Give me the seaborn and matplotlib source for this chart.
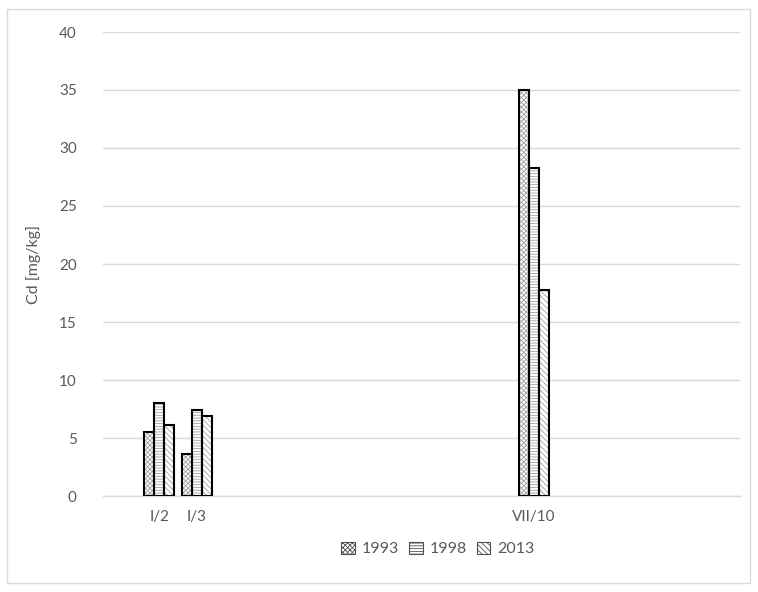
import numpy as np
import pandas as pd
import matplotlib
matplotlib.use("Agg")
import matplotlib.pyplot as plt
from matplotlib.patches import Patch, Rectangle
import seaborn as sns

# sampling sites along the category axis (blank = unused slot)
sites = ["", "I/2", "I/3", "", "", "", "", "", "", "", "", "VII/10",
         "", "", "", "", ""]
years = ["1993", "1998", "2013"]

# Cd content [mg/kg] per year, only for the labelled sites
cd_1993 = {"I/2": 5.5, "I/3": 3.6, "VII/10": 35.0}
cd_1998 = {"I/2": 8.0, "I/3": 7.4, "VII/10": 28.3}
cd_2013 = {"I/2": 6.1, "I/3": 6.9, "VII/10": 17.8}

hatches = ["xxxxxxx", "------", "\\\\\\\\\\\\"]
text_col = "#595959"

rows = []
for pos, site in enumerate(sites):
    for year, vals in zip(years, [cd_1993, cd_1998, cd_2013]):
        rows.append({"pos": pos, "year": year,
                     "cd": vals.get(site, np.nan) if site else np.nan})
df = pd.DataFrame(rows)

sns.set_style("white")
plt.rcParams["font.family"] = ["Lato", "DejaVu Sans"]
plt.rcParams["hatch.linewidth"] = 0.6

fig = plt.figure(figsize=(7.58, 5.92), dpi=100)
ax = fig.add_axes([103 / 758, 1 - 496 / 592, 637 / 758, 464 / 592])

# hatched fill
sns.barplot(data=df, x="pos", y="cd", hue="year", order=range(len(sites)),
            hue_order=years, palette=["white"] * 3, edgecolor="#a0a0a0",
            linewidth=0, width=0.8, ax=ax, legend=False, zorder=2)
for cont, h in zip(ax.containers, hatches):
    for bar in cont:
        bar.set_hatch(h)

# black outlines
sns.barplot(data=df, x="pos", y="cd", hue="year", order=range(len(sites)),
            hue_order=years, fill=False, edgecolor="black", linewidth=1.5,
            width=0.8, ax=ax, legend=False, zorder=3)

ax.set_ylim(0, 40)
ax.set_yticks(range(0, 41, 5))
ax.set_xlim(-0.5, len(sites) - 0.5)
ax.set_xticks(range(len(sites)))
ax.set_xticklabels(sites)
ax.yaxis.grid(True, color="#d9d9d9", linewidth=1)
ax.set_axisbelow(True)
for s in ["top", "right", "left"]:
    ax.spines[s].set_visible(False)
ax.spines["bottom"].set_color("#d9d9d9")
ax.spines["bottom"].set_linewidth(1)
ax.tick_params(axis="both", length=0, labelsize=11, colors=text_col, pad=10)
ax.tick_params(axis="y", pad=19)
ax.set_xlabel("")
ax.set_ylabel("Cd [mg/kg]", fontsize=11.5, color=text_col)
ax.yaxis.set_label_coords(-0.098, 0.5)

handles = [Patch(facecolor="white", edgecolor="#505050", hatch=h, linewidth=0.8)
           for h in hatches]
fig.legend(handles, years, loc="center", bbox_to_anchor=(438 / 758, 1 - 549 / 592),
           ncol=3, frameon=False, fontsize=11.5, handlelength=0.85, handleheight=0.85,
           handletextpad=0.45, columnspacing=0.6, labelcolor=text_col)

fig.patches.append(Rectangle((7 / 758, 1 - 583 / 592), 743 / 758, 574 / 592,
                             transform=fig.transFigure, fill=False,
                             edgecolor="#d9d9d9", linewidth=1))

fig.savefig("out.png", dpi=100)
